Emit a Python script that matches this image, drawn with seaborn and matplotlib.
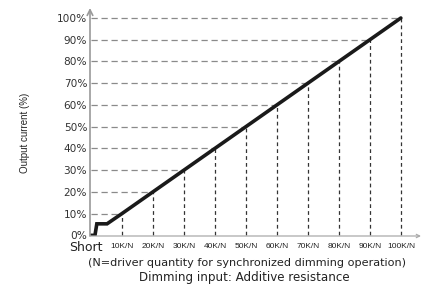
import matplotlib
matplotlib.use("Agg")
import matplotlib.pyplot as plt
import seaborn as sns
import pandas as pd

# curve (resistance in K/N, output in %)
curve_x = [0, 1.3, 1.9, 5.2, 10, 100]
curve_y = [0, 0, 5.3, 5.3, 10, 100]
levels = [10, 20, 30, 40, 50, 60, 70, 80, 90, 100]
x_labels = ["{0}K/N".format(v) for v in levels]
y_labels = ["{0}%".format(v) for v in [0] + levels]

sns.set_style("white")
plt.rcParams['font.family'] = ['DejaVu Sans']

fig = plt.figure(figsize=(4.22, 2.87), dpi=100)
ax = fig.add_axes([90 / 422, 1 - 236 / 287, 331 / 422, 228 / 287])

# guide lines to each point on the curve
for v in levels:
    ax.plot([0, v], [v, v], color="#8a8a8a", lw=0.9, ls=(0, (5, 3)), zorder=1)
    ax.plot([v, v], [0, v], color="#333333", lw=0.9, ls=(0, (3, 2.5)), zorder=1)

df = pd.DataFrame({"res": curve_x, "out": curve_y})
sns.lineplot(data=df, x="res", y="out", color="#1a1a1a", lw=2.6, ax=ax, zorder=3,
             solid_joinstyle="miter")

for s in ax.spines.values():
    s.set_visible(False)

# axes with arrow heads
ax.annotate("", xy=(0, 1.0), xytext=(0, 0), xycoords="axes fraction",
            arrowprops=dict(arrowstyle="->", color="#999999", lw=1.2,
                            shrinkA=0, shrinkB=0, mutation_scale=10))
ax.annotate("", xy=(1.0, 0), xytext=(0, 0), xycoords="axes fraction",
            arrowprops=dict(arrowstyle="->", color="#aaaaaa", lw=0.9,
                            shrinkA=0, shrinkB=0, mutation_scale=6))

ax.set_yticks([0] + levels)
ax.set_yticklabels(y_labels, fontsize=7.6, color="#333333")
ax.set_xticks(levels)
ax.set_xticklabels(x_labels, fontsize=6.0, color="#222222", family="Liberation Sans")
ax.tick_params(axis="both", length=0, pad=2)
ax.tick_params(axis="x", pad=5)
ax.set_xlim(-0.3, 106.5)
ax.set_ylim(-0.3, 104.6)

# "Short" sits a little left of the origin
ax.annotate("Short", xy=(-1.7, 0), xycoords=("data", "axes fraction"),
            xytext=(0, -3.6), textcoords="offset points", ha="center", va="top",
            fontsize=9, color="#222222", annotation_clip=False)

ax.set_xlabel("")
ax.set_ylabel("Output current (%)", fontsize=7, color="#222222",
              family="Liberation Sans")
ax.yaxis.set_label_coords(-0.181, 0.454)

fig.text(247 / 422, 1 - 263 / 287, "(N=driver quantity for synchronized dimming operation)",
         ha="center", va="center", fontsize=8.1, color="#222222")
fig.text(244 / 422, 1 - 277 / 287, "Dimming input: Additive resistance",
         ha="center", va="center", fontsize=8.6, color="#222222")

fig.savefig("out.png", dpi=100)
